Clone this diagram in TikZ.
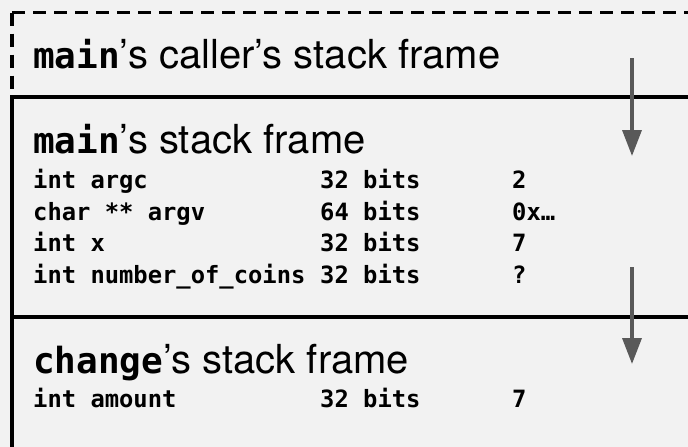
\documentclass[tikz,border=0pt]{standalone}
\usepackage{fontspec}
\setmainfont{TeX Gyre Heros}
\setmonofont{DejaVu Sans Mono}
\usetikzlibrary{arrows.meta}
\definecolor{bg}{HTML}{F2F2F2}
\definecolor{arr}{HTML}{595959}
\tikzset{
  heading/.style={anchor=base west, inner sep=0pt, font=\fontsize{40}{48}\selectfont},
  row/.style={anchor=base west, inner sep=0pt, font=\fontsize{23.8}{28}\selectfont\ttfamily\bfseries},
  frameline/.style={line width=3.5pt, black},
  callerline/.style={line width=3.5pt, black, dash pattern=on 13pt off 8pt},
  growth/.style={arr, line width=3.5pt, -{Triangle[width=19pt,length=26pt]}},
}
\newcommand\hmono[1]{{\fontsize{36}{40}\selectfont\ttfamily\bfseries #1}}
\begin{document}
\begin{tikzpicture}[x=1pt,y=-1pt]
\fill[bg] (0,0) rectangle (688,447);
\useasboundingbox (0,0) rectangle (688,447);
% caller frame (dashed)
\draw[callerline] (12,12.5) -- (688,12.5);
\draw[callerline] (12,12.5) -- (12,97);
% main and change frames
\draw[frameline] (12,447) -- (12,97) -- (688,97);
\draw[frameline] (12,317) -- (688,317);
% headings
\node[heading] (h1) at (33,68) {\hmono{main}’s caller’s stack frame};
\node[heading] (h2) at (33,153) {\hmono{main}’s stack frame};
\node[heading] (h3) at (33,373) {\hmono{change}’s stack frame};
% main rows
\node[row] (r1a) at (33,188) {int argc};
\node[row] (r1b) at (320,188) {32 bits};
\node[row] (r1c) at (512,188) {2};
\node[row] (r2a) at (33,220) {char ** argv};
\node[row] (r2b) at (320,220) {64 bits};
\node[row] (r2c) at (512,220) {0x…};
\node[row] (r3a) at (33,251.5) {int x};
\node[row] (r3b) at (320,251.5) {32 bits};
\node[row] (r3c) at (512,251.5) {7};
\node[row] (r4a) at (33,283) {int number\_of\_coins};
\node[row] (r4b) at (320,283) {32 bits};
\node[row] (r4c) at (512,283) {?};
% change rows
\node[row] (r5a) at (33,407) {int amount};
\node[row] (r5b) at (320,407) {32 bits};
\node[row] (r5c) at (512,407) {7};
% growth arrows
\coordinate (a1s) at (632,58);
\coordinate (a1e) at (632,156);
\coordinate (a2s) at (632,267);
\coordinate (a2e) at (632,364);
\draw[growth] (a1s) -- (a1e);
\draw[growth] (a2s) -- (a2e);
\end{tikzpicture}
\end{document}
